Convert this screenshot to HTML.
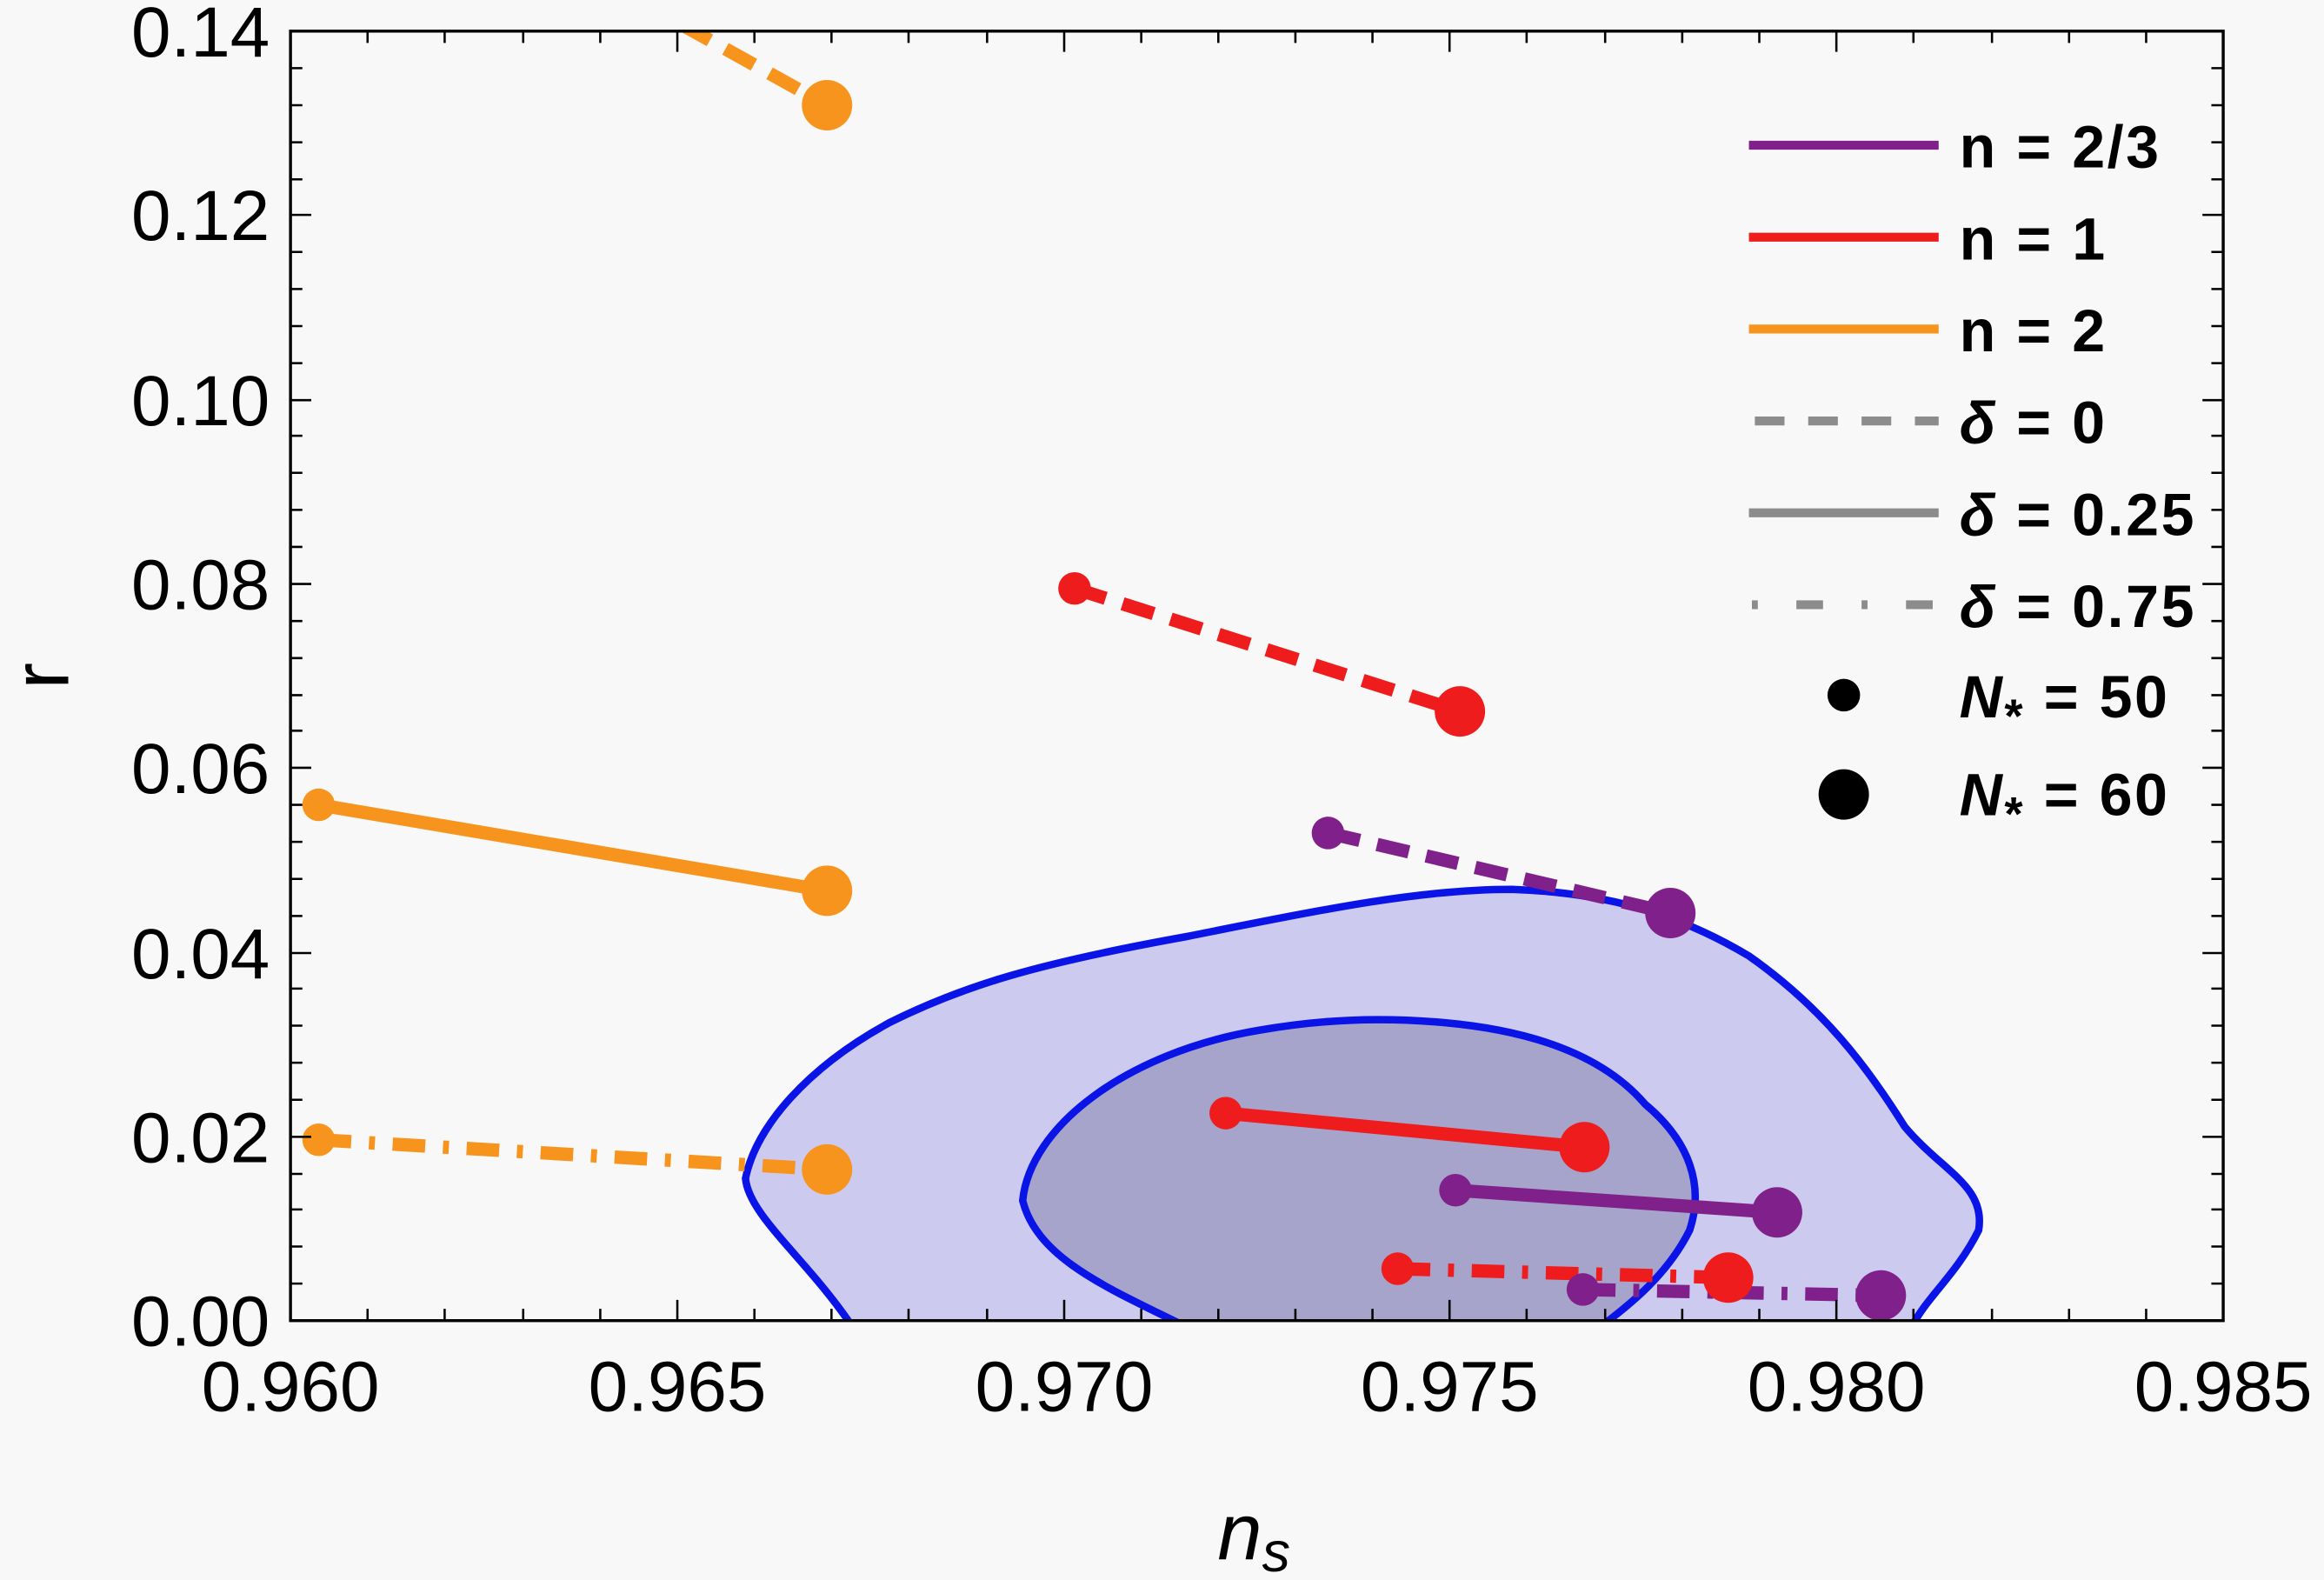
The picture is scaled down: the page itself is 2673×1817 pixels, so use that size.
<!DOCTYPE html>
<html><head><style>html,body{margin:0;padding:0;background:#f8f8f8;}svg{display:block}</style></head>
<body>
<svg width="2673" height="1817" viewBox="0 0 1568 1066" preserveAspectRatio="none" xmlns="http://www.w3.org/2000/svg" font-family="Liberation Sans, sans-serif">
<rect width="1568" height="1066" fill="#f8f8f8"/>
<defs><clipPath id="c"><rect x="196" y="21" width="1304" height="870"/></clipPath></defs>
<g clip-path="url(#c)">
<path d="M575,895 C545,850 505,820 503,795 C510,760 545,720 600,690 C650,665 700,650 800,632 C900,612 960,600 1020,600 C1080,602 1130,615 1180,645 C1230,680 1260,720 1285,760 C1310,790 1340,800 1335,830 C1320,860 1300,875 1290,895 Z" fill="#cdcaf0" stroke="#0a14e6" stroke-width="5"/>
<path d="M800,895 C750,870 700,850 690,810 C695,760 760,710 850,695 C890,688 930,686 975,690 C1030,695 1080,710 1110,745 C1140,770 1150,800 1140,830 C1125,860 1100,880 1080,895 Z" fill="#a7a4cc" stroke="#0a14e6" stroke-width="5"/>
<g stroke-width="9" fill="none">
<line x1="430" y1="0" x2="558" y2="71" stroke="#f7941d" stroke-dasharray="22,12"/>
<line x1="725" y1="397" x2="985" y2="480" stroke="#ee1c1c" stroke-dasharray="22,12"/>
<line x1="896" y1="562" x2="1127" y2="616" stroke="#80208a" stroke-dasharray="22,12"/>
<line x1="215" y1="543" x2="558" y2="601" stroke="#f7941d"/>
<line x1="827" y1="751" x2="1069" y2="774" stroke="#ee1c1c"/>
<line x1="982" y1="803" x2="1199" y2="818" stroke="#80208a"/>
<line x1="215" y1="769" x2="558" y2="789" stroke="#f7941d" stroke-dasharray="22,12,4,12"/>
<line x1="943" y1="856" x2="1166" y2="862" stroke="#ee1c1c" stroke-dasharray="22,12,4,12"/>
<line x1="1068" y1="870" x2="1269" y2="874" stroke="#80208a" stroke-dasharray="22,12,4,12"/>
</g>
<g fill="#f7941d"><circle cx="558" cy="71" r="17"/><circle cx="215" cy="543" r="11"/><circle cx="558" cy="601" r="17"/><circle cx="215" cy="769" r="11"/><circle cx="558" cy="789" r="17"/></g>
<g fill="#ee1c1c"><circle cx="725" cy="397" r="11"/><circle cx="985" cy="480" r="17"/><circle cx="827" cy="751" r="11"/><circle cx="1069" cy="774" r="17"/><circle cx="943" cy="856" r="11"/><circle cx="1166" cy="862" r="17"/></g>
<g fill="#80208a"><circle cx="896" cy="562" r="11"/><circle cx="1127" cy="616" r="17"/><circle cx="982" cy="803" r="11"/><circle cx="1199" cy="818" r="17"/><circle cx="1068" cy="870" r="11"/><circle cx="1269" cy="874" r="17"/></g>
</g>
<rect x="196" y="21" width="1304" height="870" fill="none" stroke="#000" stroke-width="2"/>
<g stroke="#000" stroke-width="1.5">
<path d="M196,891v-14M457,891v-14M718,891v-14M978,891v-14M1239,891v-14M196,21v14M457,21v14M718,21v14M978,21v14M1239,21v14"/>
<path d="M248,891v-8M300,891v-8M353,891v-8M405,891v-8M509,891v-8M561,891v-8M613,891v-8M666,891v-8M770,891v-8M822,891v-8M874,891v-8M926,891v-8M1030,891v-8M1083,891v-8M1135,891v-8M1187,891v-8M1291,891v-8M1344,891v-8M1396,891v-8M1448,891v-8"/>
<path d="M248,21v8M300,21v8M353,21v8M405,21v8M509,21v8M561,21v8M613,21v8M666,21v8M770,21v8M822,21v8M874,21v8M926,21v8M1030,21v8M1083,21v8M1135,21v8M1187,21v8M1291,21v8M1344,21v8M1396,21v8M1448,21v8"/>
<path d="M196,767h14M196,643h14M196,518h14M196,394h14M196,270h14M196,145h14M1500,767h-14M1500,643h-14M1500,518h-14M1500,394h-14M1500,270h-14M1500,145h-14"/>
<path d="M196,866h8M196,841h8M196,816h8M196,792h8M196,742h8M196,717h8M196,692h8M196,667h8M196,618h8M196,593h8M196,568h8M196,543h8M196,493h8M196,469h8M196,444h8M196,419h8M196,369h8M196,344h8M196,319h8M196,294h8M196,245h8M196,220h8M196,195h8M196,170h8M196,121h8M196,96h8M196,71h8M196,46h8"/>
<path d="M1500,866h-8M1500,841h-8M1500,816h-8M1500,792h-8M1500,742h-8M1500,717h-8M1500,692h-8M1500,667h-8M1500,618h-8M1500,593h-8M1500,568h-8M1500,543h-8M1500,493h-8M1500,469h-8M1500,444h-8M1500,419h-8M1500,369h-8M1500,344h-8M1500,319h-8M1500,294h-8M1500,245h-8M1500,220h-8M1500,195h-8M1500,170h-8M1500,121h-8M1500,96h-8M1500,71h-8M1500,46h-8"/>
</g>
<g font-size="48" fill="#000" text-anchor="end">
<text x="182" y="908">0.00</text><text x="182" y="784">0.02</text><text x="182" y="660">0.04</text><text x="182" y="535">0.06</text><text x="182" y="411">0.08</text><text x="182" y="287">0.10</text><text x="182" y="162">0.12</text><text x="182" y="38">0.14</text>
</g>
<g font-size="48" fill="#000" text-anchor="middle">
<text x="196" y="952">0.960</text><text x="457" y="952">0.965</text><text x="718" y="952">0.970</text><text x="978" y="952">0.975</text><text x="1239" y="952">0.980</text><text x="1500" y="952">0.985</text>
</g>
<text x="846" y="1052" font-size="54" font-style="italic" text-anchor="middle">n<tspan font-size="38" dy="8">s</tspan></text>
<text transform="translate(46,456) rotate(-90)" font-size="54" text-anchor="middle">r</text>
<g stroke-width="6">
<line x1="1180" y1="98" x2="1308" y2="98" stroke="#80208a"/>
<line x1="1180" y1="160" x2="1308" y2="160" stroke="#ee1c1c"/>
<line x1="1180" y1="222" x2="1308" y2="222" stroke="#f7941d"/>
<line x1="1184" y1="284" x2="1308" y2="284" stroke="#8c8c8c" stroke-dasharray="20,16"/>
<line x1="1180" y1="346" x2="1308" y2="346" stroke="#8c8c8c"/>
<line x1="1182" y1="408" x2="1308" y2="408" stroke="#8c8c8c" stroke-dasharray="4,26,18,26"/>
</g>
<circle cx="1244" cy="469" r="11"/><circle cx="1244" cy="536" r="17"/>
<g font-size="40" font-weight="bold" fill="#000" letter-spacing="1.5">
<text x="1322" y="113">n = 2/3</text>
<text x="1322" y="175">n = 1</text>
<text x="1322" y="237">n = 2</text>
<text x="1322" y="299"><tspan font-style="italic">δ</tspan> = 0</text>
<text x="1322" y="361"><tspan font-style="italic">δ</tspan> = 0.25</text>
<text x="1322" y="423"><tspan font-style="italic">δ</tspan> = 0.75</text>
<text x="1322" y="484"><tspan font-style="italic">N</tspan><tspan font-size="32" dy="10">*</tspan><tspan dy="-10"> = 50</tspan></text>
<text x="1322" y="550"><tspan font-style="italic">N</tspan><tspan font-size="32" dy="10">*</tspan><tspan dy="-10"> = 60</tspan></text>
</g>
</svg>
</body></html>
